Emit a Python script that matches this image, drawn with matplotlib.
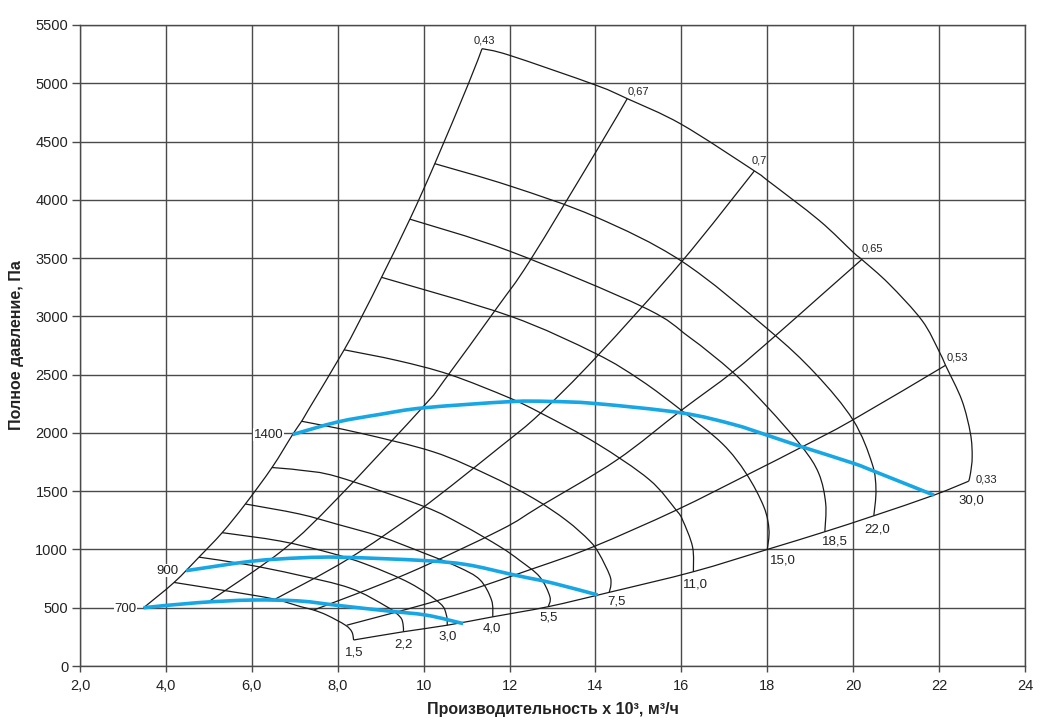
import numpy as np
import matplotlib
matplotlib.use("Agg")
import matplotlib.pyplot as plt
from matplotlib.path import Path
from matplotlib.patches import PathPatch

plt.rcParams['font.family'] = ['Liberation Sans', 'DejaVu Sans']

# axes
x_ticks = [2, 4, 6, 8, 10, 12, 14, 16, 18, 20, 22, 24]
x_tick_labels = ['2,0', '4,0', '6,0', '8,0', '10', '12', '14', '16', '18', '20', '22', '24']
y_ticks = list(range(0, 5501, 500))

# efficiency lines (Q in 10^3 m3/h, P in Pa)
eff_043_q = [3.48, 4.19, 4.77, 5.31, 5.85, 6.47, 6.95, 7.16, 7.32, 8.15, 8.6, 9.02, 9.68, 10.26, 11.04, 11.36]
eff_043_p = [500, 717, 934, 1144, 1390, 1703, 1986, 2100, 2200, 2713, 3027, 3335, 3834, 4310, 4994, 5297]
eff_067_q = [5.03, 6.74, 7.98, 10.0, 10.48, 11.70, 12.47, 14.03, 14.74]
eff_067_p = [560, 1000, 1433, 2229, 2451, 3070, 3475, 4423, 4868]
eff_07_q = [6.55, 8.23, 9.91, 11.78, 12.71, 14.03, 16.0, 17.70]
eff_07_p = [575, 915, 1339, 1880, 2166, 2655, 3466, 4248]
eff_065_q = [7.44, 9.6, 11.78, 12.71, 14.49, 16.0, 17.2, 18.2, 19.21, 20.2]
eff_065_p = [480, 790, 1166, 1370, 1766, 2194, 2523, 2837, 3166, 3488]
eff_053_q = [8.21, 10.4, 12.56, 13.95, 15.88, 17.59, 18.81, 19.98, 22.15]
eff_053_p = [350, 570, 837, 1023, 1337, 1651, 1880, 2109, 2580]
eff_033_q = [8.37, 9.53, 10.55, 11.61, 12.90, 14.32, 16.28, 18.0, 19.34, 20.48, 21.88, 22.69]
eff_033_p = [223, 294, 350, 422, 509, 632, 809, 1000, 1152, 1289, 1466, 1586]

# pressure curves by motor power, kW
pw_15_q = [4.19, 5.51, 6.51, 7.14, 7.44, 7.75, 8.18, 8.33, 8.37]
pw_15_p = [717, 639, 575, 509, 480, 436, 350, 292, 223]
pw_22_q = [4.77, 5.89, 7.05, 8.29, 9.14, 9.45, 9.52, 9.53]
pw_22_p = [934, 870, 783, 668, 509, 422, 360, 294]
pw_30_q = [5.31, 6.66, 7.82, 8.68, 9.68, 10.38, 10.53, 10.55]
pw_30_p = [1144, 1072, 971, 870, 711, 538, 436, 350]
pw_40_q = [5.85, 7.1, 8.0, 9.0, 10.0, 10.8, 11.31, 11.58, 11.61]
pw_40_p = [1390, 1305, 1215, 1110, 970, 850, 740, 566, 422]
pw_55_q = [6.47, 7.13, 8.0, 10.0, 10.9, 11.78, 12.24, 12.70, 12.94, 12.90]
pw_55_p = [1703, 1680, 1623, 1370, 1210, 1023, 905, 766, 594, 509]
pw_75_q = [7.16, 8.5, 10.23, 11.5, 12.55, 13.32, 13.86, 14.09, 14.33, 14.36, 14.32]
pw_75_p = [2100, 2000, 1837, 1640, 1440, 1250, 1075, 960, 780, 700, 632]
pw_110_q = [8.15, 9.4, 10.61, 12.0, 12.75, 14.03, 15.25, 15.88, 16.03, 16.26, 16.28]
pw_110_p = [2713, 2620, 2500, 2300, 2166, 1909, 1600, 1337, 1251, 1023, 809]
pw_150_q = [9.02, 12.0, 14.0, 15.05, 16.0, 16.95, 17.51, 17.92, 18.04, 18.0]
pw_150_p = [3335, 3004, 2682, 2453, 2194, 1909, 1651, 1366, 1166, 1000]
pw_185_q = [9.68, 12.0, 15.11, 16.18, 17.19, 18.0, 18.81, 19.2, 19.36, 19.34]
pw_185_p = [3834, 3560, 3080, 2823, 2523, 2223, 1880, 1651, 1394, 1152]
pw_220_q = [10.26, 12.0, 14.0, 16.0, 18.0, 19.12, 20.0, 20.44, 20.53, 20.48]
pw_220_p = [4310, 4120, 3854, 3475, 2894, 2509, 2109, 1737, 1509, 1289]
pw_300_q = [11.36, 12.0, 14.0, 14.74, 16.0, 17.70, 18.0, 19.21, 20.0, 20.2, 20.83, 21.6, 22.0,
            22.15, 22.53, 22.73, 22.77, 22.73, 22.69]
pw_300_p = [5297, 5240, 4985, 4868, 4648, 4248, 4168, 3823, 3550, 3488, 3280, 2966, 2700,
            2580, 2280, 1994, 1794, 1651, 1586]

# speed curves, rpm
n_700_q = [3.48, 4.73, 6.0, 7.1, 8.0, 9.14, 10.07, 10.92]
n_700_p = [500, 543, 566, 558, 520, 473, 436, 364]
n_900_q = [4.47, 6.0, 7.14, 8.1, 10.0, 11.0, 12.0, 12.46, 13.0, 14.05]
n_900_p = [818, 899, 928, 933, 905, 870, 790, 754, 712, 610]
n_1400_q = [6.95, 8.0, 9.0, 10.0, 12.0, 12.93, 14.0, 16.0, 17.19, 18.0, 18.81, 20.0, 20.52, 21.88]
n_1400_p = [1986, 2094, 2160, 2215, 2268, 2270, 2252, 2172, 2075, 1980, 1880, 1740, 1666, 1466]

eff_lines = [
    (eff_043_q, eff_043_p, '0,43'), (eff_067_q, eff_067_p, '0,67'),
    (eff_07_q, eff_07_p, '0,7'), (eff_065_q, eff_065_p, '0,65'),
    (eff_053_q, eff_053_p, '0,53'), (eff_033_q, eff_033_p, '0,33'),
]
power_curves = [
    (pw_15_q, pw_15_p, '1,5', (1, -12)), (pw_22_q, pw_22_p, '2,2', (0, -12.5)),
    (pw_30_q, pw_30_p, '3,0', (0, -11.5)), (pw_40_q, pw_40_p, '4,0', (-1, -11.5)),
    (pw_55_q, pw_55_p, '5,5', (0, -11)), (pw_75_q, pw_75_p, '7,5', (7, -9.5)),
    (pw_110_q, pw_110_p, '11,0', (2.5, -12.5)), (pw_150_q, pw_150_p, '15,0', (16, -11.5)),
    (pw_185_q, pw_185_p, '18,5', (10, -10)), (pw_220_q, pw_220_p, '22,0', (3, -14)),
    (pw_300_q, pw_300_p, '30,0', (3, -19)),
]
speed_curves = [
    (n_700_q, n_700_p, '700', (-7, -1)),
    (n_900_q, n_900_p, '900', (-8, 0)),
    (n_1400_q, n_1400_p, '1400', (-9, 0)),
]

grid_col = '#4a4a4a'
text_col = '#222222'
blue = '#17a7e4'
PX = 1.389  # pixels per point at 100 dpi


def smooth_curve(ax, q, p, **kw):
    # draw the read points as one smooth Catmull-Rom / Bezier path
    pts = np.column_stack([q, p]).astype(float)
    ext = np.vstack([pts[0], pts, pts[-1]])
    verts = [pts[0]]
    codes = [Path.MOVETO]
    for i in range(1, len(ext) - 2):
        p0, p1, p2, p3 = ext[i - 1], ext[i], ext[i + 1], ext[i + 2]
        verts += [p1 + (p2 - p0) / 6.0, p2 - (p3 - p1) / 6.0, p2]
        codes += [Path.CURVE4] * 3
    ax.add_patch(PathPatch(Path(verts, codes), fill=False, **kw))


fig = plt.figure(figsize=(10.51, 7.21), dpi=100)
ax = fig.add_axes([80 / 1051, 1 - 666 / 721, 945 / 1051, 641 / 721])

ax.set_xlim(2, 24)
ax.set_ylim(0, 5500)
ax.set_xticks(x_ticks)
ax.set_xticklabels(x_tick_labels)
ax.set_yticks(y_ticks)
ax.grid(True, color=grid_col, lw=1.0, zorder=0)
ax.set_axisbelow(True)
for s in ax.spines.values():
    s.set_color(grid_col)
    s.set_linewidth(1.0)
ax.tick_params(length=5.5, width=1.0, color=grid_col, labelsize=10.5, labelcolor=text_col, pad=3)
ax.tick_params(axis='x', length=4.5, pad=5)

for q, p, lab in eff_lines:
    smooth_curve(ax, q, p, edgecolor='#1a1a1a', lw=0.9, zorder=2)
for q, p, lab, off in power_curves:
    smooth_curve(ax, q, p, edgecolor='#1a1a1a', lw=0.9, zorder=2)
    ax.annotate(lab, (q[-1], p[-1]), xytext=(off[0] / PX, off[1] / PX),
                textcoords='offset points', ha='center', va='center',
                fontsize=9.5, color=text_col, zorder=4)

# efficiency labels at the ends of the lines
eff_off = {'0,43': (2, 8.6, 'center'), '0,67': (0, 7.6, 'left'), '0,7': (-3, 10, 'left'),
           '0,65': (0, 11, 'left'), '0,53': (1, 8, 'left'), '0,33': (7, 2, 'left')}
for q, p, lab in eff_lines:
    dx, dy, ha = eff_off[lab]
    ax.annotate(lab, (q[-1], p[-1]), xytext=(dx / PX, dy / PX),
                textcoords='offset points', ha=ha, va='center',
                fontsize=8, color=text_col, zorder=4)

for q, p, lab, off in speed_curves:
    smooth_curve(ax, q, p, edgecolor=blue, lw=2.6, capstyle='butt', zorder=3)
    ax.annotate(lab, (q[0], p[0]), xytext=(off[0] / PX, off[1] / PX),
                textcoords='offset points', ha='right', va='center',
                fontsize=9.5, color=text_col, zorder=4,
                bbox=dict(boxstyle='square,pad=0.05', fc='white', ec='none'))

ax.set_xlabel('Производительность х 10³, м³/ч', fontsize=11.5, fontweight='bold',
              color=text_col, labelpad=6)
ax.set_ylabel('Полное давление, Па', fontsize=11.5, fontweight='bold',
              color=text_col, labelpad=8)

fig.savefig('out.png', dpi=100)
